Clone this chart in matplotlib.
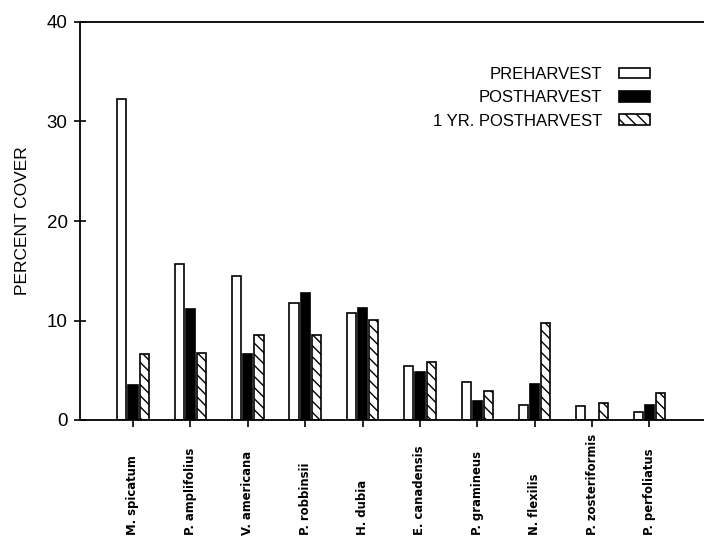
import numpy as np
import matplotlib
matplotlib.use("Agg")
import matplotlib.pyplot as plt

# species on the x axis
species = ["M. spicatum", "P. amplifolius", "V. americana", "P. robbinsii",
           "H. dubia", "E. canadensis", "P. gramineus", "N. flexilis",
           "P. zosteriformis", "P. perfoliatus"]

# percent cover
preharvest = [32.3, 15.7, 14.5, 11.8, 10.8, 5.4, 3.8, 1.5, 1.4, 0.8]
postharvest = [3.5, 11.2, 6.6, 12.8, 11.3, 4.8, 1.9, 3.6, 0.0, 1.5]
one_yr_post = [6.6, 6.7, 8.5, 8.5, 10.1, 5.8, 2.9, 9.7, 1.7, 2.7]

series_names = ["PREHARVEST", "POSTHARVEST", "1 YR. POSTHARVEST"]

plt.rcParams["font.family"] = ["Liberation Sans", "DejaVu Sans"]
plt.rcParams["hatch.linewidth"] = 1.0

fig = plt.figure(figsize=(7.04, 5.40), dpi=100)
ax = fig.add_axes([80 / 704, 120 / 540, 624 / 704, 398 / 540])

x = np.arange(len(species))
w = 0.16
off = 0.195
ax.bar(x - off, preharvest, w, facecolor="white", edgecolor="black",
       linewidth=1.2, label=series_names[0])
ax.bar(x, postharvest, w, facecolor="black", edgecolor="black",
       linewidth=1.2, label=series_names[1])
ax.bar(x + off, one_yr_post, w, facecolor="white", edgecolor="black",
       linewidth=1.2, hatch="\\\\\\", label=series_names[2])

ax.set_xlim(-0.923, 9.95)
ax.set_ylim(0, 40)
ax.set_yticks([0, 10, 20, 30, 40])
ax.tick_params(axis="y", direction="inout", length=8, width=1.2,
               labelsize=13.5, pad=5)
ax.set_xticks(x)
ax.set_xticklabels([])
ax.tick_params(axis="x", direction="out", length=5, width=1.2)

for s in ["left", "bottom", "top"]:
    ax.spines[s].set_linewidth(1.3)
ax.spines["right"].set_visible(False)

ax.set_ylabel("PERCENT COVER", fontsize=12.5, labelpad=12)

# rotated species names, bottom-aligned
trans = ax.get_xaxis_transform()
for xi, name in zip(x, species):
    ax.text(xi, -0.29, name, rotation=90, ha="center", va="bottom",
            fontsize=8.4, fontweight="bold", family="DejaVu Sans",
            transform=trans)

ax.legend(loc="upper right", bbox_to_anchor=(0.913, 0.887), frameon=False,
          markerfirst=False, fontsize=12, handlelength=1.85,
          handleheight=0.6, labelspacing=0.5, handletextpad=1.0,
          borderpad=0, borderaxespad=0)

fig.savefig("out.png", dpi=100)
